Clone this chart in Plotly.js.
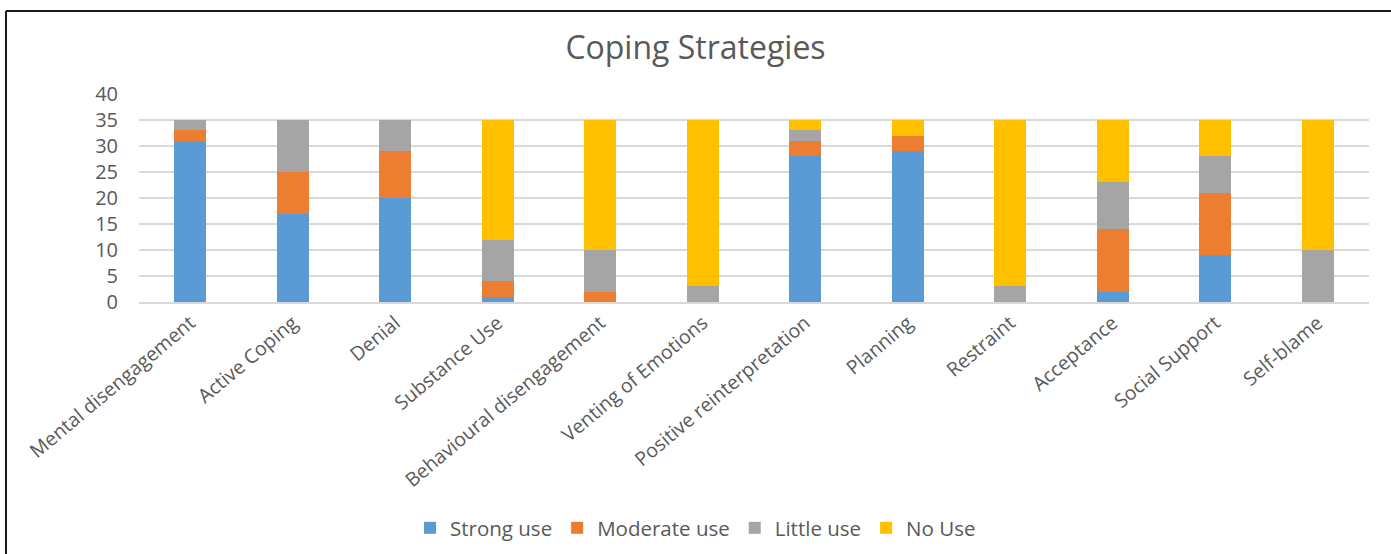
<!DOCTYPE html>
<html>
<head>
<meta charset="utf-8">
<script src="https://cdn.plot.ly/plotly-3.0.1.min.js"></script>
<style>
  html, body { margin: 0; padding: 0; background: #ffffff; }
  #chart { width: 1391px; height: 554px; }
</style>
</head>
<body>
<div id="chart"></div>
<script>
// Coping strategies and how many respondents used each one, by level of use
const strategies = [
  "Mental disengagement", "Active Coping", "Denial", "Substance Use",
  "Behavioural disengagement", "Venting of Emotions", "Positive reinterpretation",
  "Planning", "Restraint", "Acceptance", "Social Support", "Self-blame"
];
const strongUse   = [31, 17, 20,  1,  0,  0, 28, 29,  0,  2,  9,  0];
const moderateUse = [ 2,  8,  9,  3,  2,  0,  3,  3,  0, 12, 12,  0];
const littleUse   = [ 2, 10,  6,  8,  8,  3,  2,  0,  3,  9,  7, 10];
const noUse       = [ 0,  0,  0, 23, 25, 32,  2,  3, 32, 12,  7, 25];

const seriesNames = ["Strong use", "Moderate use", "Little use", "No Use"];
const seriesValues = [strongUse, moderateUse, littleUse, noUse];
const seriesColors = ["#5B9BD5", "#ED7D31", "#A5A5A5", "#FFC000"];

const textColor = "#595959";
const fontFamily = "'Open Sans', 'Liberation Sans', sans-serif";

const traces = seriesNames.map((name, i) => ({
  type: "bar",
  name: name,
  x: strategies,
  y: seriesValues[i],
  marker: { color: seriesColors[i], line: { width: 0 } },
  hoverinfo: "x+y+name"
}));

// Chart frame: left and top edges of the chart border
const W = 1391, H = 554;
const m = { l: 139, r: 22, t: 94, b: 252 };
const plotW = W - m.l - m.r, plotH = H - m.t - m.b;
const px = v => (v - m.l) / plotW;
const py = v => (H - m.b - v) / plotH;

const layout = {
  width: W,
  height: H,
  margin: m,
  paper_bgcolor: "#ffffff",
  plot_bgcolor: "#ffffff",
  barmode: "stack",
  bargap: 0.69,
  font: { family: fontFamily, color: textColor, size: 18 },
  title: {
    text: "Coping Strategies",
    font: { family: fontFamily, size: 32, color: textColor },
    x: 0.5,
    xanchor: "center",
    xref: "container",
    y: 1 - 48 / H,
    yanchor: "middle",
    yref: "container"
  },
  xaxis: {
    type: "category",
    tickangle: -40,
    tickfont: { family: fontFamily, size: 19.5, color: textColor },
    showgrid: false,
    showline: true,
    linecolor: "#d9d9d9",
    linewidth: 2,
    ticks: "",
    zeroline: false,
    automargin: false
  },
  yaxis: {
    range: [0, 40],
    dtick: 5,
    tick0: 0,
    tickfont: { family: fontFamily, size: 20, color: textColor },
    showgrid: true,
    gridcolor: "#d9d9d9",
    gridwidth: 2,
    zeroline: false,
    showline: false,
    ticks: "",
    ticklabelstandoff: 20,
    automargin: false
  },
  showlegend: true,
  legend: {
    orientation: "h",
    x: 0.5,
    xref: "container",
    xanchor: "center",
    y: 26 / H,
    yref: "container",
    yanchor: "middle",
    font: { family: fontFamily, size: 20.5, color: textColor },
    traceorder: "normal",
    itemwidth: 30,
    bgcolor: "rgba(0,0,0,0)"
  },
  shapes: [
    {
      type: "line", xref: "paper", yref: "paper", layer: "above",
      x0: px(6), x1: px(6), y0: py(H + 5), y1: py(11),
      line: { color: "#1a1a1a", width: 2 }
    },
    {
      type: "line", xref: "paper", yref: "paper", layer: "above",
      x0: px(6), x1: px(W + 5), y0: py(11), y1: py(11),
      line: { color: "#1a1a1a", width: 2 }
    }
  ]
};

Plotly.newPlot("chart", traces, layout, { displayModeBar: false, responsive: false });
</script>
</body>
</html>
